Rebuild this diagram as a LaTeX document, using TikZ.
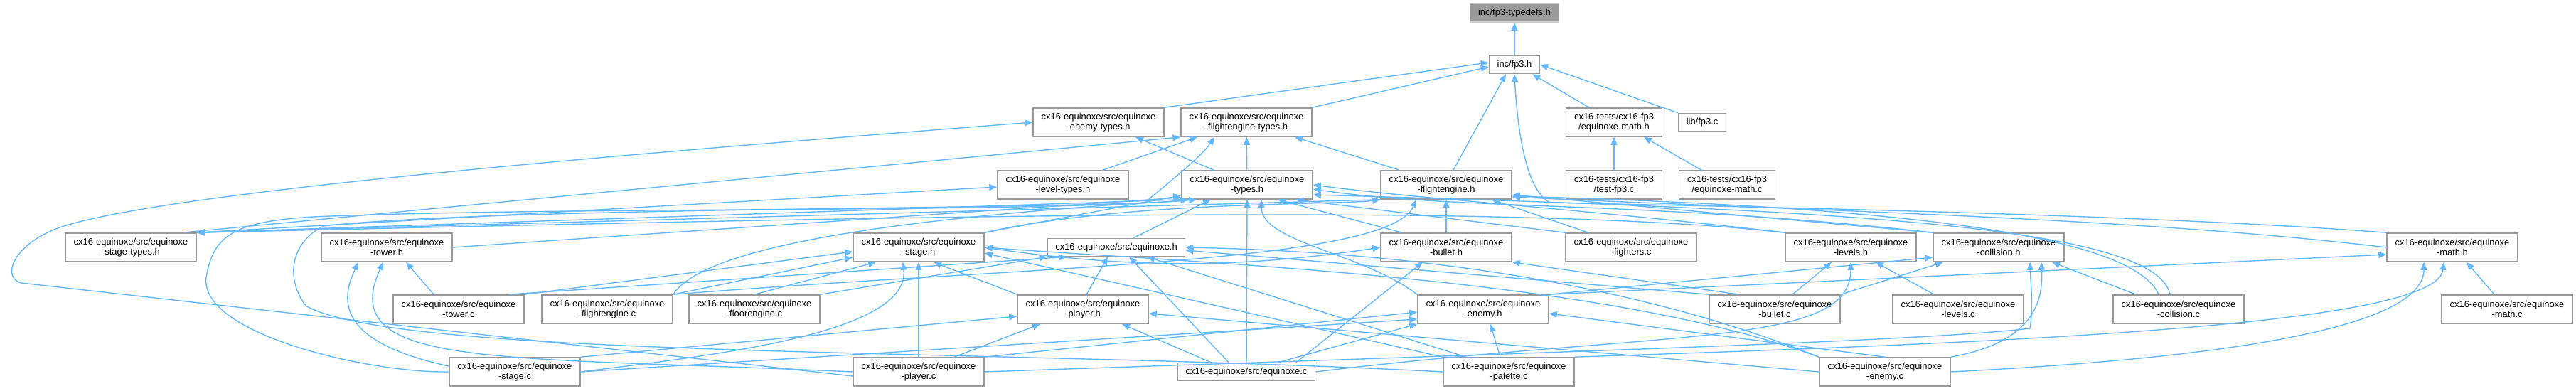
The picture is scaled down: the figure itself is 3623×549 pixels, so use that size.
\documentclass[tikz,border=0pt]{standalone}
\usepackage{fontspec}
\setmainfont{Liberation Sans}
\usetikzlibrary{arrows.meta}
\definecolor{depblue}{HTML}{63B8FF}
\definecolor{boxgray}{HTML}{999999}
\definecolor{topgray}{HTML}{9A9A9A}
\tikzset{
  hdr/.style={draw=boxgray, line width=1.6pt, fill=white, minimum width=184pt, minimum height=40pt,
    inner sep=0pt, align=center, font=\fontsize{12.9}{14.5}\selectfont},
  hdrone/.style={hdr, minimum height=25pt},
  hdrtest/.style={hdr, minimum width=135pt},
  dep/.style={draw=depblue, line width=1.4pt, -{Triangle[length=11pt,width=9pt]}},
}
\begin{document}
\begin{tikzpicture}[x=1pt,y=-1pt]
\useasboundingbox (0,0) rectangle (3623,549);
% files
\node[hdrone, fill=topgray, draw=gray!40, minimum width=125pt, minimum height=26pt] (typedefs) at (2130,18) {inc/fp3-typedefs.h};
\node[hdrone, minimum width=71pt] (fp3h) at (2130,91) {inc/fp3.h};
\node[hdr] (enemytypes) at (1545,172) {cx16-equinoxe/src/equinoxe\\-enemy-types.h};
\node[hdr] (fetypes) at (1753,172) {cx16-equinoxe/src/equinoxe\\-flightengine-types.h};
\node[hdrtest] (tmathh) at (2270,172) {cx16-tests/cx16-fp3\\/equinoxe-math.h};
\node[hdrone, minimum width=67pt] (libfp3) at (2394,172) {lib/fp3.c};
\node[hdr] (leveltypes) at (1495,260) {cx16-equinoxe/src/equinoxe\\-level-types.h};
\node[hdr] (types) at (1754,260) {cx16-equinoxe/src/equinoxe\\-types.h};
\node[hdr] (feh) at (2034,260) {cx16-equinoxe/src/equinoxe\\-flightengine.h};
\node[hdrtest] (testfp3) at (2270,260) {cx16-tests/cx16-fp3\\/test-fp3.c};
\node[hdrtest] (tmathc) at (2429,260) {cx16-tests/cx16-fp3\\/equinoxe-math.c};
\node[hdr] (stagetypes) at (184,348) {cx16-equinoxe/src/equinoxe\\-stage-types.h};
\node[hdr] (towerh) at (544,348) {cx16-equinoxe/src/equinoxe\\-tower.h};
\node[hdr] (stageh) at (1292,348) {cx16-equinoxe/src/equinoxe\\-stage.h};
\node[hdrone, minimum width=193pt] (equinoxeh) at (1570,348) {cx16-equinoxe/src/equinoxe.h};
\node[hdr] (bulleth) at (2034,348) {cx16-equinoxe/src/equinoxe\\-bullet.h};
\node[hdr] (fighters) at (2294,348) {cx16-equinoxe/src/equinoxe\\-fighters.c};
\node[hdr] (levelsh) at (2603,348) {cx16-equinoxe/src/equinoxe\\-levels.h};
\node[hdr] (collisionh) at (2811,348) {cx16-equinoxe/src/equinoxe\\-collision.h};
\node[hdr] (mathh) at (3449,348) {cx16-equinoxe/src/equinoxe\\-math.h};
\node[hdr] (towerc) at (645,435) {cx16-equinoxe/src/equinoxe\\-tower.c};
\node[hdr] (fec) at (854,435) {cx16-equinoxe/src/equinoxe\\-flightengine.c};
\node[hdr] (floorc) at (1061,435) {cx16-equinoxe/src/equinoxe\\-floorengine.c};
\node[hdr] (playerh) at (1523,435) {cx16-equinoxe/src/equinoxe\\-player.h};
\node[hdr] (enemyh) at (2086,435) {cx16-equinoxe/src/equinoxe\\-enemy.h};
\node[hdr] (bulletc) at (2496,435) {cx16-equinoxe/src/equinoxe\\-bullet.c};
\node[hdr] (levelsc) at (2754,435) {cx16-equinoxe/src/equinoxe\\-levels.c};
\node[hdr] (collisionc) at (3064,435) {cx16-equinoxe/src/equinoxe\\-collision.c};
\node[hdr] (mathc) at (3526,435) {cx16-equinoxe/src/equinoxe\\-math.c};
\node[hdr] (stagec) at (724,523) {cx16-equinoxe/src/equinoxe\\-stage.c};
\node[hdr] (playerc) at (1292,523) {cx16-equinoxe/src/equinoxe\\-player.c};
\node[hdrone, minimum width=193pt] (equinoxec) at (1753,523) {cx16-equinoxe/src/equinoxe.c};
\node[hdr] (palettec) at (2122,523) {cx16-equinoxe/src/equinoxe\\-palette.c};
\node[hdr] (enemyc) at (2651,523) {cx16-equinoxe/src/equinoxe\\-enemy.c};
% includes of fp3
\draw[dep] (fp3h) -- (typedefs);
\draw[dep] (enemytypes.north east) -- ([yshift=3pt]fp3h.west);
\draw[dep] (fetypes.north east) -- ([yshift=-3pt]fp3h.west);
\draw[dep] ([xshift=10pt]feh.north) -- ([xshift=-12pt]fp3h.south);
\draw[dep] ([xshift=-35pt]tmathh.north) -- ([xshift=25pt]fp3h.south);
\draw[dep] (libfp3.north west) -- (fp3h.east);
\draw[dep] (mathh.north west) .. controls (3000,300) and (2400,290) .. (2180,285)
  .. controls (2150,270) and (2135,200) .. (fp3h.south);
\draw[dep] (testfp3) -- (tmathh);
\draw[dep] ([xshift=-36pt]tmathc.north) -- ([xshift=42pt]tmathh.south);
% type headers
\draw[dep] ([yshift=-6pt]playerc.west) -- (30,398) .. controls (0,390) and (20,340) .. (90,318)
  .. controls (250,268) and (900,215) .. (enemytypes.west);
\draw[dep] ([xshift=-47pt]types.north) -- ([xshift=52pt]enemytypes.south);
\draw[dep] ([xshift=-20pt]stagetypes.north east) -- (fetypes.south west);
\draw[dep] ([xshift=56pt]leveltypes.north) -- ([xshift=-69pt]fetypes.south);
\draw[dep] (fec.north east) .. controls (1000,330) and (1400,300) .. (1610,285)
  .. controls (1640,260) and (1690,220) .. ([xshift=-45pt]fetypes.south);
\draw[dep] (types) -- (fetypes);
\draw[dep] ([xshift=-66pt]feh.north) -- ([xshift=68pt]fetypes.south);
\draw[dep] (stagetypes.north east) -- ([yshift=-3pt]leveltypes.west);
\draw[dep] (types.south west) -- (stagetypes.north east);
\draw[dep] (feh.south west) -- (stagetypes.north east);
\draw[dep] (levelsh.north west) .. controls +(-400,-45) and +(900,-20) .. (stagetypes.north east);
% into types
\draw[dep] (stagec.west) .. controls (520,525) and (280,470) .. (290,390) .. controls (300,330) and (330,312) .. (440,305)
  .. controls (800,290) and (1450,300) .. ([xshift=22pt]types.south west);
\draw[dep] (palettec.west) .. controls (1400,490) and (560,505) .. (430,430) .. controls (400,390) and (410,340) .. (455,318)
  .. controls (700,290) and (1550,295) .. ([xshift=10pt]types.south west);
\draw[dep] (towerh.east) -- ([yshift=3pt]types.south west);
\draw[dep] (stageh.north east) -- ([yshift=6pt]types.south west);
\draw[dep] ([xshift=24pt]equinoxeh.north) -- ([xshift=-51pt]types.south);
\draw[dep] (equinoxec.north) -- (types.south);
\draw[dep] (enemyh.north west) .. controls +(-80,-60) and +(0,60) .. ([xshift=20pt]types.south);
\draw[dep] ([xshift=-62pt]bulleth.north) -- ([xshift=43pt]types.south);
\draw[dep] (fighters.north west) -- ([xshift=68pt]types.south);
\draw[dep] (levelsh.north west) .. controls +(-300,-35) and +(150,20) .. (types.east);
\draw[dep] (collisionh.north west) .. controls +(-400,-45) and +(200,30) .. ([yshift=-6pt]types.east);
\draw[dep] ([xshift=-12pt]collisionc.north) .. controls +(-20,-100) and +(700,20) .. ([yshift=-14pt]types.east);
% into flightengine.h
\draw[dep] (bulleth) -- (feh);
\draw[dep] ([xshift=-60pt]fighters.north) -- ([xshift=64pt]feh.south);
\draw[dep] (fec.north east) .. controls +(500,-40) and +(-40,90) .. ([xshift=-42pt]feh.south);
\draw[dep] (stageh.north east) .. controls +(200,-45) and +(-60,8) .. (feh.south west);
\draw[dep] (collisionh.north west) -- ([yshift=-14pt]feh.east);
\draw[dep] (mathh.west) .. controls (3000,305) and (2500,295) .. ([yshift=-17pt]feh.east);
\draw[dep] ([xshift=-28pt]collisionc.north) .. controls +(-40,-90) and +(500,14) .. ([yshift=-16pt]feh.east);
% into tower.h and stage.h
\draw[dep] ([xshift=-35pt]towerc.north) -- ([xshift=27pt]towerh.south);
\draw[dep] ([yshift=8pt]stagec.west) .. controls (470,480) and (480,420) .. ([xshift=-40pt]towerh.south);
\draw[dep] (playerc.west) .. controls (700,500) and (470,520) .. ([xshift=-5pt]towerh.south);
\draw[dep] (towerc.north east) -- ([yshift=-6pt]stageh.west);
\draw[dep] (fec.north east) -- ([yshift=-14pt]stageh.west);
\draw[dep] (floorc.north) -- ([xshift=-60pt]stageh.south);
\draw[dep] (stagec.east) .. controls (1000,500) and (1280,470) .. ([xshift=-22pt]stageh.south);
\draw[dep] (playerc.north) -- (stageh.south);
\draw[dep] (playerh.north west) -- ([xshift=21pt]stageh.south);
\draw[dep] (palettec.north west) -- ([yshift=-8pt]stageh.east);
\draw[dep] (enemyc.north west) .. controls +(-300,-110) and +(350,25) .. (stageh.east);
% into equinoxe.h
\draw[dep] (floorc.north east) -- (equinoxeh.south west);
\draw[dep] ([xshift=70pt]towerc.north) -- ([xshift=-70pt]equinoxeh.south);
\draw[dep] ([xshift=5pt]playerh.north) -- ([xshift=-12pt]equinoxeh.south);
\draw[dep] ([xshift=-25pt]equinoxec.north) -- ([xshift=18pt]equinoxeh.south);
\draw[dep] ([xshift=-60pt]palettec.north) -- ([xshift=43pt]equinoxeh.south);
\draw[dep] (enemyc.north west) .. controls +(-300,-120) and +(250,5) .. (equinoxeh.east);
\draw[dep] (bulletc.north west) -- ([yshift=-4pt]equinoxeh.east);
% into player.h and enemy.h
\draw[dep] (stagec.north east) -- ([yshift=-10pt]playerh.west);
\draw[dep] ([xshift=50pt]playerc.north) -- ([xshift=-60pt]playerh.south);
\draw[dep] ([xshift=-50pt]equinoxec.north) -- ([xshift=55pt]playerh.south);
\draw[dep] (enemyc.west) -- ([yshift=-6pt]playerh.east);
\draw[dep] (playerc.north east) -- ([yshift=-4pt]enemyh.west);
\draw[dep] ([xshift=45pt]equinoxec.north) -- (enemyh.south west);
\draw[dep] ([xshift=-12pt]palettec.north) -- ([xshift=10pt]enemyh.south);
\draw[dep] (enemyc.north) -- ([yshift=-6pt]enemyh.east);
\draw[dep] (stagec.east) -- ([yshift=-14pt]enemyh.west);
% into bullet.h, levels.h, collision.h, math.h
\draw[dep] (stageh.east) .. controls +(200,30) and +(-200,30) .. (bulleth.west);
\draw[dep] ([xshift=70pt]equinoxec.north) -- ([xshift=-33pt]bulleth.south);
\draw[dep] ([xshift=-50pt]bulletc.north) -- (bulleth.south east);
\draw[dep] ([xshift=25pt]bulletc.north) -- ([xshift=-27pt]levelsh.south);
\draw[dep] (equinoxec.east) .. controls +(500,-60) and +(0,120) .. (levelsh.south);
\draw[dep] ([xshift=-34pt]levelsc.north) -- ([xshift=35pt]levelsh.south);
\draw[dep] (enemyh.north east) -- ([yshift=-14pt]collisionh.west);
\draw[dep] (bulletc.north east) -- ([xshift=-78pt]collisionh.south);
\draw[dep] (playerc.east) .. controls (2200,495) and (2700,480) .. (2855,462)
  .. controls (2860,430) and (2856,400) .. ([xshift=44pt]collisionh.south);
\draw[dep] (enemyc.north east) .. controls +(110,-20) and +(3,62) .. ([xshift=60pt]collisionh.south);
\draw[dep] ([xshift=-60pt]collisionc.north) -- ([xshift=75pt]collisionh.south);
\draw[dep] (enemyh.north east) -- ([yshift=-10pt]mathh.west);
\draw[dep] (enemyc.east) .. controls +(400,-20) and +(0,90) .. ([xshift=-40pt]mathh.south);
\draw[dep] (palettec.north east) .. controls +(600,-20) and +(-10,90) .. ([xshift=-12pt]mathh.south);
\draw[dep] ([xshift=-18pt]mathc.north) -- ([xshift=20pt]mathh.south);
\end{tikzpicture}
\end{document}
